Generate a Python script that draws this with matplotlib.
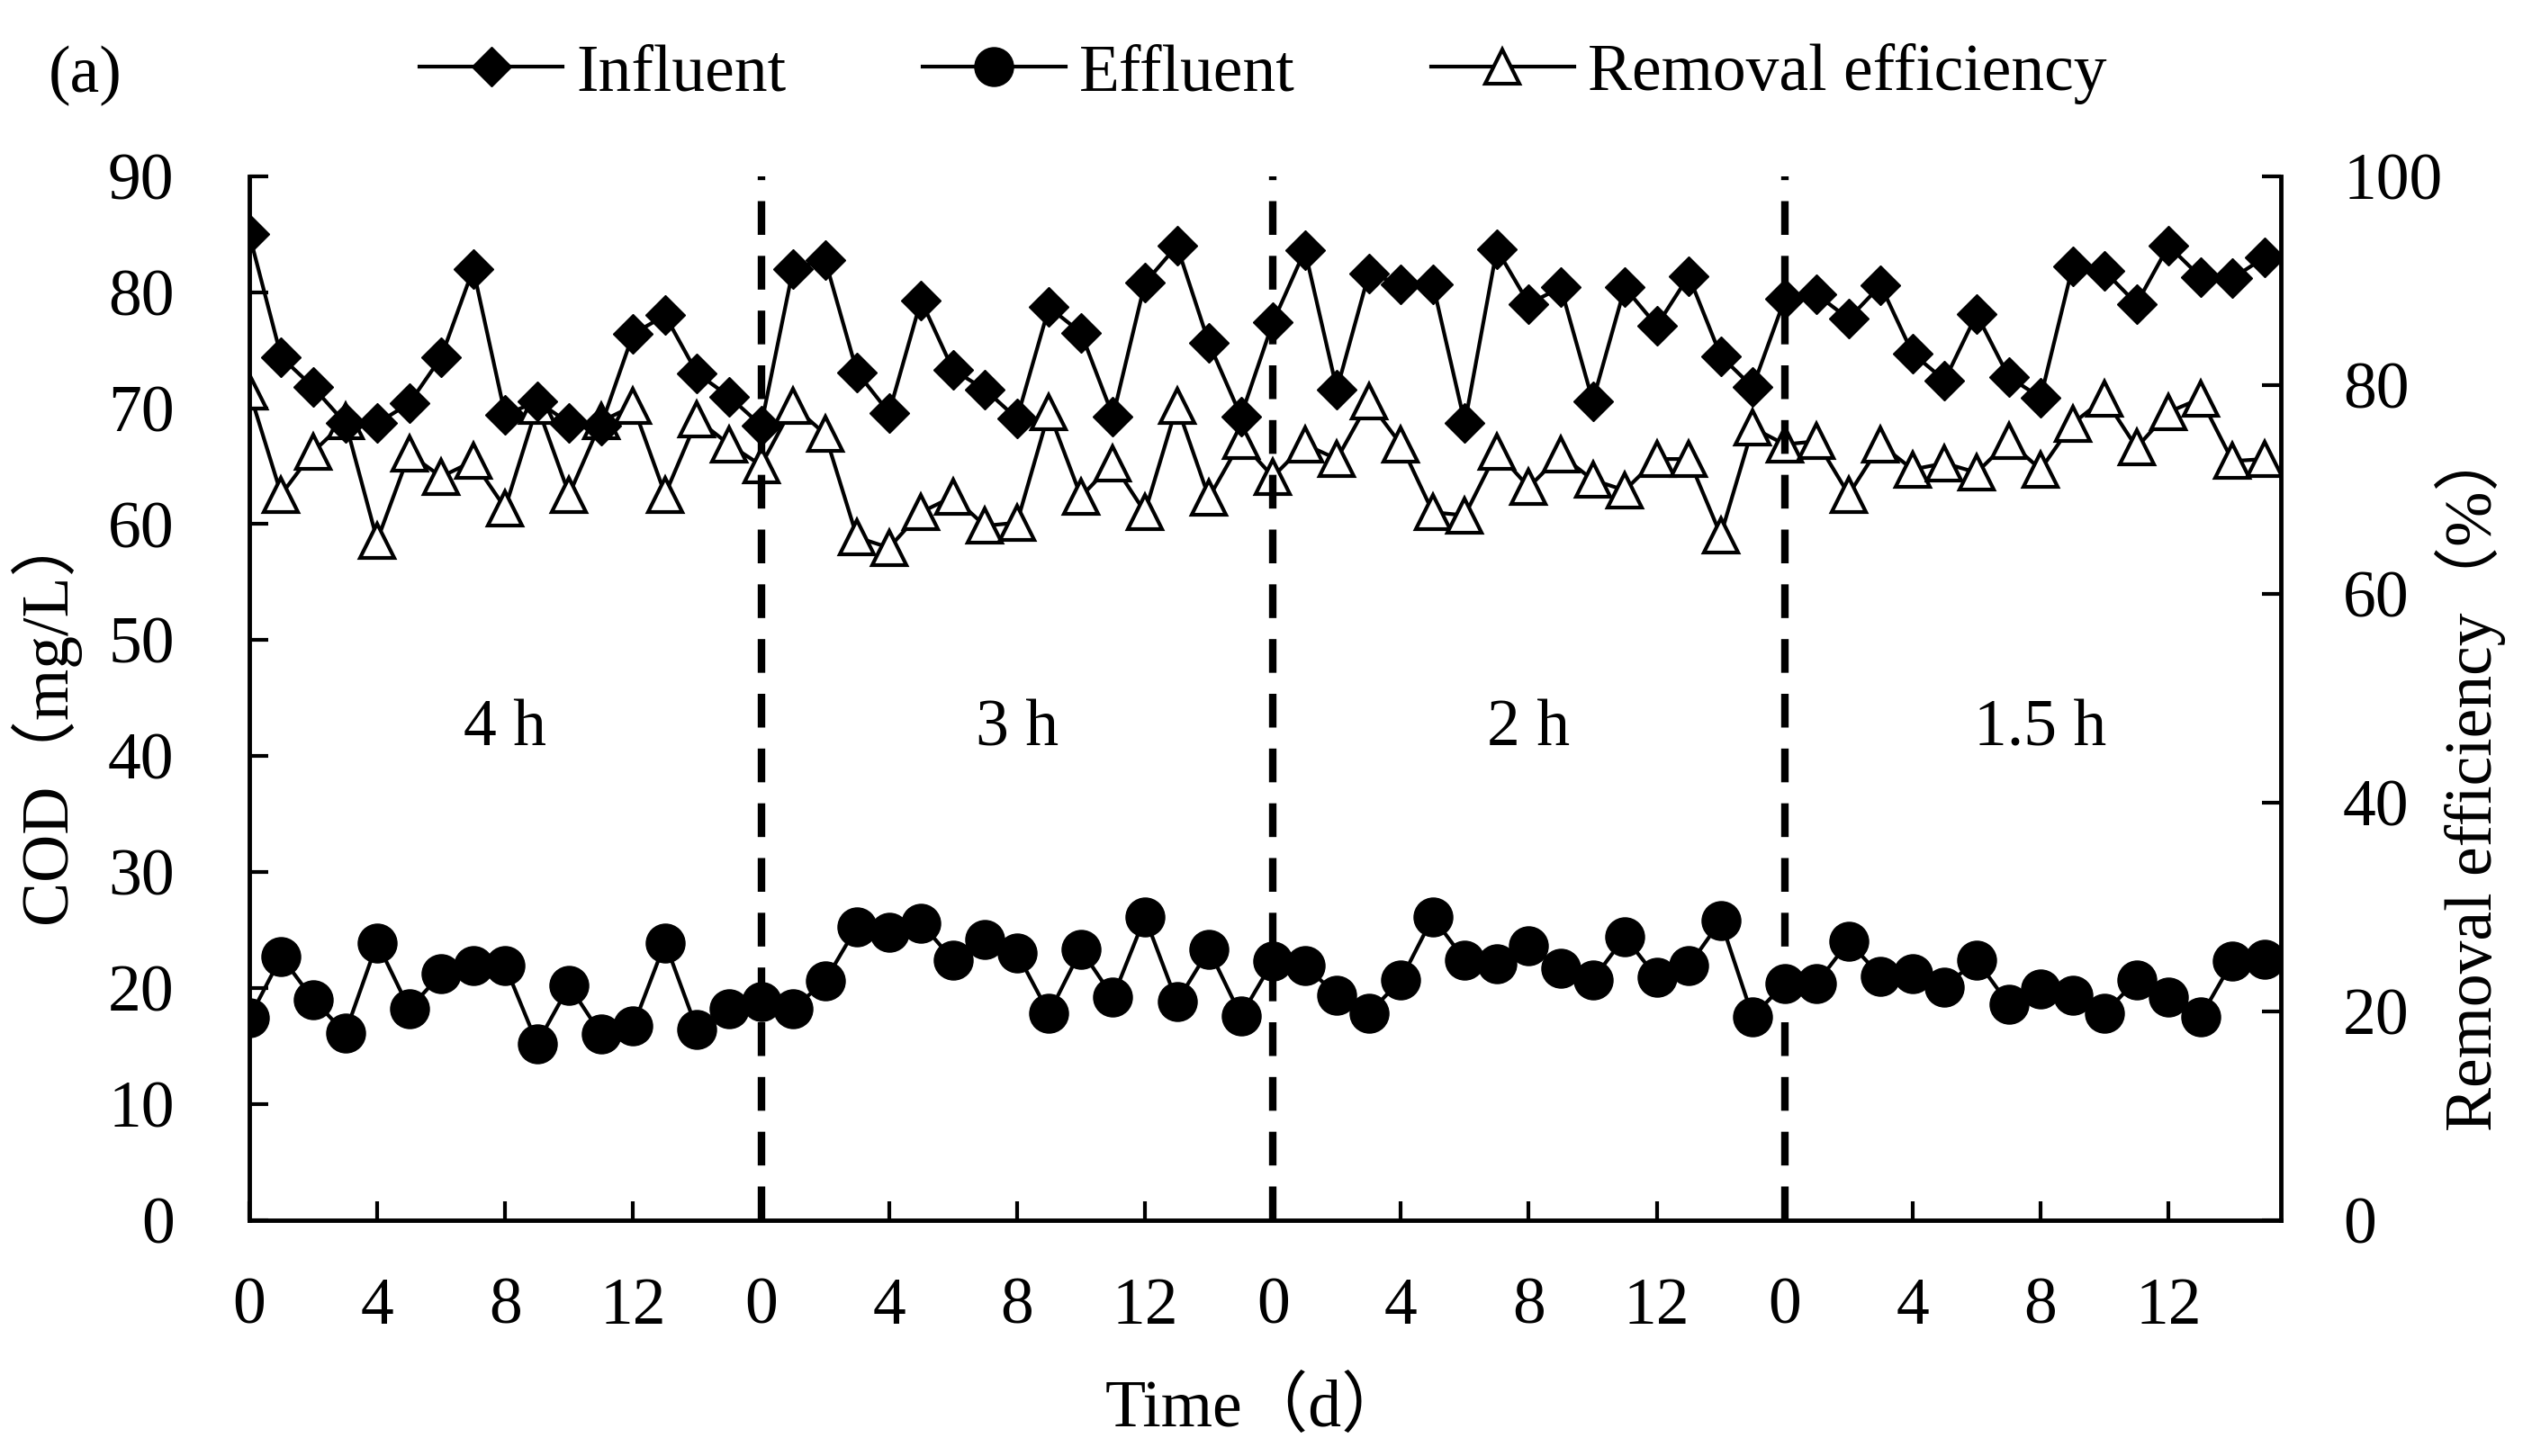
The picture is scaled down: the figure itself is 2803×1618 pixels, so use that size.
import numpy as np
import matplotlib
matplotlib.use("Agg")
from matplotlib import pyplot as plt

plt.rcParams['font.family'] = ['Liberation Serif', 'Noto Sans CJK SC']
plt.rcParams['font.size'] = 53

# COD (mg/L) and removal (%) for four HRT stages, 16 days each
influent = [85.0, 74.4, 71.8, 68.7, 68.7, 70.4, 74.4, 82.0, 69.4, 70.6, 68.7, 68.5, 76.4, 78.0, 73.0, 71.0,
            68.5, 82.0, 82.8, 73.1, 69.6, 79.3, 73.3, 71.6, 69.1, 78.7, 76.5, 69.3, 80.8, 84.0, 75.6, 69.3,
            77.4, 83.6, 71.6, 81.6, 80.7, 80.7, 68.7, 83.7, 79.0, 80.4, 70.6, 80.4, 77.1, 81.4, 74.5, 71.8,
            79.4, 79.8, 77.7, 80.6, 74.7, 72.4, 78.1, 72.7, 70.9, 82.2, 81.8, 79.0, 84.0, 81.3, 81.2, 83.0]
effluent = [17.4, 22.7, 19.0, 16.1, 23.9, 18.2, 21.2, 21.9, 21.9, 15.2, 20.2, 16.0, 16.7, 23.9, 16.4, 18.2,
            18.8, 18.2, 20.6, 25.3, 24.8, 25.6, 22.4, 24.2, 23.0, 17.8, 23.3, 19.2, 26.1, 18.8, 23.3, 17.6,
            22.3, 21.9, 19.4, 17.8, 20.7, 26.1, 22.4, 22.1, 23.6, 21.7, 20.7, 24.4, 20.9, 21.9, 25.8, 17.5,
            20.4, 20.4, 24.0, 21.0, 21.2, 20.1, 22.4, 18.6, 19.9, 19.4, 17.8, 20.7, 19.2, 17.5, 22.3, 22.5]
removal = [79.4, 69.5, 73.6, 76.5, 65.1, 73.4, 71.2, 72.7, 68.2, 78.0, 69.5, 76.5, 78.0, 69.5, 76.7, 74.3,
           72.3, 78.0, 75.3, 65.4, 64.4, 67.8, 69.3, 66.5, 66.8, 77.4, 69.3, 72.5, 67.8, 78.0, 69.2, 74.6,
           71.2, 74.3, 72.9, 78.4, 74.3, 67.8, 67.5, 73.6, 70.2, 73.3, 70.9, 69.9, 72.9, 72.9, 65.6, 75.9,
           74.3, 74.6, 69.5, 74.3, 71.9, 72.5, 71.6, 74.6, 71.9, 76.3, 78.7, 74.0, 77.4, 78.7, 72.7, 72.9]

stage_names = ["4 h", "3 h", "2 h", "1.5 h"]
day_labels = ["0", "4", "8", "12"]
days_per_stage = 16

days = np.arange(len(influent))

fig = plt.figure(figsize=(28.03, 16.18), dpi=100)
ax = fig.add_axes([0.0988, 0.1622, 0.9039 - 0.0988, 0.879 - 0.1622])
ax2 = ax.twinx()
# keep the filled markers above the open triangles
ax.set_zorder(ax2.get_zorder() + 1)
ax.patch.set_visible(False)

l3, = ax2.plot(days, removal, '-^', color='black', mfc='white', mec='black',
               ms=28, mew=3, lw=3, label='Removal efficiency')
l1, = ax.plot(days, influent, '-D', color='black', ms=22, lw=3, label='Influent')
l2, = ax.plot(days, effluent, '-o', color='black', ms=31, lw=3, label='Effluent')

for k in range(1, len(stage_names)):
    ax.axvline(k * days_per_stage, color='black', lw=6, ls=(0, (4.5, 2.8)))

for k, name in enumerate(stage_names):
    ax.text(k * days_per_stage + 8, 42.3, name, ha='center', va='center')

ax.set_xlim(0, 63.5)
ax.set_ylim(0, 90)
ax2.set_ylim(0, 100)
ax.set_xticks(np.arange(0, len(stage_names) * days_per_stage, 4))
ax.set_xticklabels(day_labels * len(stage_names))
ax.set_yticks(np.arange(0, 91, 10))
ax2.set_yticks(np.arange(0, 101, 20))

for s in ['top', 'right']:
    ax.spines[s].set_visible(False)
for s in ['top', 'left', 'bottom']:
    ax2.spines[s].set_visible(False)
for s in ['left', 'bottom']:
    ax.spines[s].set_linewidth(3.5)
ax2.spines['right'].set_linewidth(3.5)

ax.tick_params(axis='x', direction='in', length=15, width=3, pad=46)
ax.tick_params(axis='y', direction='in', length=15, width=3, pad=60)
ax2.tick_params(axis='y', direction='in', length=15, width=3, pad=50)

fig.text(0.0178, 0.5087, "COD（mg/L）", rotation=90, ha='center', va='center')
fig.text(0.979, 0.466, "Removal efficiency（%）", rotation=90, ha='center', va='center')
fig.text(0.498, 0.032, "Time（d）", ha='center', va='center')
fig.text(0.0193, 0.948, "(a)", ha='left', va='center')

fig.legend(handles=[l1, l2, l3], loc='center left', bbox_to_anchor=(0.1663, 0.9493),
           ncol=3, frameon=False, handlelength=2.16, handletextpad=0.21,
           columnspacing=2.05, borderpad=0, borderaxespad=0)

fig.savefig("out.png", dpi=100)
